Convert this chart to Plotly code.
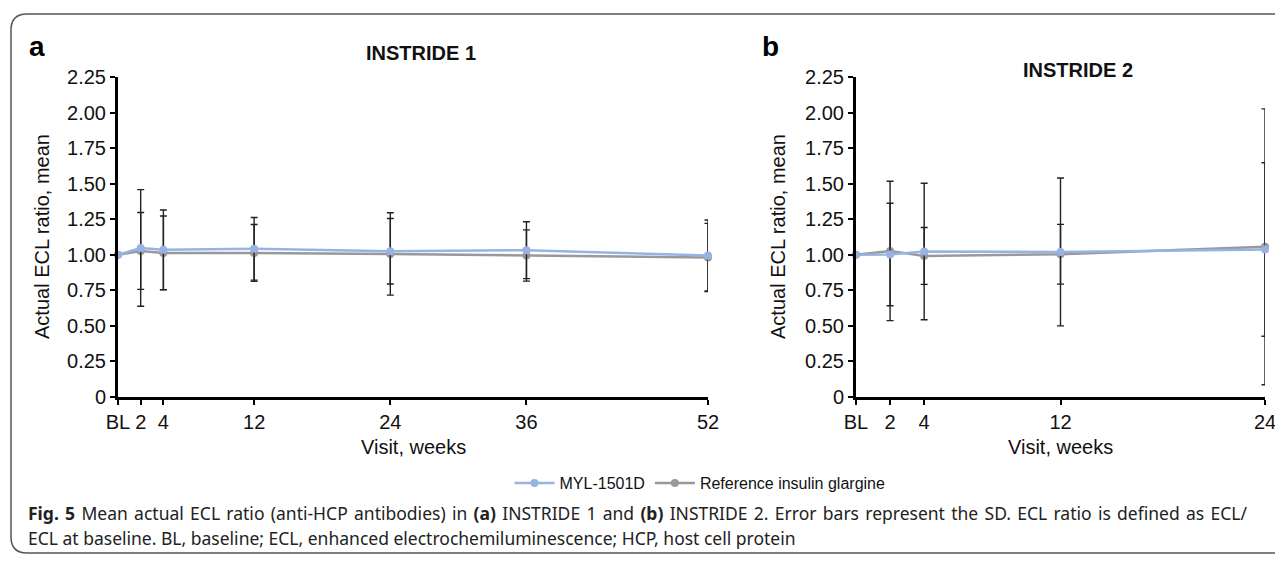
import plotly.graph_objects as go

W, H = 1283, 561
OFF = 8                      # page body margin
FW, FH = W - OFF, H - OFF    # figure size so that it fits the window

# ---------------- data ----------------
weeks_a = [0, 2, 4, 12, 24, 36, 52]
labels_a = ["BL", "2", "4", "12", "24", "36", "52"]
myl_a = [1.00, 1.048, 1.035, 1.042, 1.025, 1.032, 0.995]
myl_a_sd = [0, 0.41, 0.28, 0.22, 0.23, 0.20, 0.25]
ref_a = [1.00, 1.027, 1.013, 1.013, 1.006, 0.995, 0.981]
ref_a_sd = [0, 0.27, 0.26, 0.20, 0.29, 0.18, 0.24]

weeks_b = [0, 2, 4, 12, 24]
labels_b = ["BL", "2", "4", "12", "24"]
myl_b = [1.00, 1.002, 1.023, 1.020, 1.037]
myl_b_sd = [0, 0.36, 0.48, 0.52, 0.61]
ref_b = [1.00, 1.027, 0.992, 1.004, 1.056]
ref_b_sd = [0, 0.49, 0.20, 0.21, 0.97]

y_ticks = [0, 0.25, 0.5, 0.75, 1.0, 1.25, 1.5, 1.75, 2.0, 2.25]
y_labels = ["0", "0.25", "0.50", "0.75", "1.00", "1.25", "1.50", "1.75", "2.00", "2.25"]

series_names = ["MYL-1501D", "Reference insulin glargine"]
panel_titles = ["INSTRIDE 1", "INSTRIDE 2"]

caption_1 = ("<b>Fig. 5</b> Mean actual ECL ratio (anti-HCP antibodies) in <b>(a)</b> INSTRIDE 1 and "
             "<b>(b)</b> INSTRIDE 2. Error bars represent the SD. ECL ratio is defined as ECL/")
caption_2 = "ECL at baseline. BL, baseline; ECL, enhanced electrochemiluminescence; HCP, host cell protein"

# ---------------- style ----------------
BLUE = "#98b3e3"
GREY = "#999999"
ERR = "#222222"
FONT = "Liberation Sans, Arial, Helvetica, sans-serif"
CAPF = "Noto Sans, DejaVu Sans, sans-serif"


def px(x):
    return (x - OFF) / FW


def py(y):
    return 1 - (y - OFF) / FH


fig = go.Figure()


def add_series(x, y, sd, name, color, xa, ya, show, rank):
    fig.add_trace(go.Scatter(
        x=x, y=y, name=name, mode="lines+markers",
        line=dict(color=color, width=2.5),
        marker=dict(color=color, size=8),
        error_y=dict(type="data", array=sd, visible=True, color=ERR,
                     thickness=1.4, width=3.5),
        xaxis=xa, yaxis=ya, showlegend=show, legendrank=rank,
        cliponaxis=False,
    ))


add_series(weeks_a, ref_a, ref_a_sd, series_names[1], GREY, "x", "y", True, 2)
add_series(weeks_a, myl_a, myl_a_sd, series_names[0], BLUE, "x", "y", True, 1)
add_series(weeks_b, ref_b, ref_b_sd, series_names[1], GREY, "x2", "y2", False, 2)
add_series(weeks_b, myl_b, myl_b_sd, series_names[0], BLUE, "x2", "y2", False, 1)

ydom = [py(397), py(77)]
axis_common = dict(showline=True, linecolor="black", linewidth=3, ticks="outside",
                   ticklen=5, tickwidth=2, tickcolor="black", showgrid=False,
                   zeroline=False, automargin=False,
                   tickfont=dict(family=FONT, size=20, color="#111"))

fig.update_layout(
    xaxis=dict(domain=[px(118), px(708)], range=[0, 52], tickvals=weeks_a,
               ticktext=labels_a, anchor="y", **axis_common),
    yaxis=dict(domain=ydom, range=[0, 2.25], tickvals=y_ticks, ticktext=y_labels,
               anchor="x", **axis_common),
    xaxis2=dict(domain=[px(856), px(1265)], range=[0, 24], tickvals=weeks_b,
                ticktext=labels_b, anchor="y2", **axis_common),
    yaxis2=dict(domain=ydom, range=[0, 2.25], tickvals=y_ticks, ticktext=y_labels,
                anchor="x2", **axis_common),
)

ann = []


def add_ann(x, y, text, size, family=FONT, xanchor="center", angle=0, color="#111"):
    ann.append(dict(x=px(x), y=py(y), xref="paper", yref="paper", text=text,
                    showarrow=False, xanchor=xanchor, yanchor="middle", textangle=angle,
                    font=dict(family=family, size=size, color=color)))


# panel letters
add_ann(27, 46, "<b>a</b>", 28, xanchor="left", color="black")
add_ann(760, 46, "<b>b</b>", 28, xanchor="left", color="black")
# panel titles
add_ann(421, 53, "<b>" + panel_titles[0] + "</b>", 20)
add_ann(1078, 70, "<b>" + panel_titles[1] + "</b>", 20)
# y titles
for xp in (42, 778):
    add_ann(xp, 237, "Actual ECL ratio, mean", 20, angle=-90)
# x titles
for xp in (413, 1060):
    add_ann(xp, 447, "Visit, weeks", 20)
# caption (first line is justified in the original: widen its word gaps slightly)
add_ann(26, 513, caption_1.replace(" ", " \u200a"), 17.5, family=CAPF, xanchor="left", color="#222")
add_ann(26, 538, caption_2, 17.5, family=CAPF, xanchor="left", color="#222")

# rounded border
r = 16
path = (f"M {px(1300)},{py(14)} L {px(11 + r)},{py(14)} "
        f"Q {px(11)},{py(14)} {px(11)},{py(14 + r)} "
        f"L {px(11)},{py(553 - r)} Q {px(11)},{py(553)} {px(11 + r)},{py(553)} L {px(1300)},{py(553)}")

fig.update_layout(
    width=FW, height=FH,
    margin=dict(l=0, r=0, t=0, b=0, pad=0, autoexpand=False),
    paper_bgcolor="white", plot_bgcolor="white",
    annotations=ann,
    shapes=[dict(type="path", path=path, xref="paper", yref="paper",
                 line=dict(color="#555", width=1.5))],
    legend=dict(orientation="h", x=px(700), y=py(483), xanchor="center", yanchor="middle",
                font=dict(family=FONT, size=16, color="#111"), bgcolor="rgba(0,0,0,0)",
                itemwidth=40, tracegroupgap=0),
    showlegend=True,
)

fig.write_html("out.html")
